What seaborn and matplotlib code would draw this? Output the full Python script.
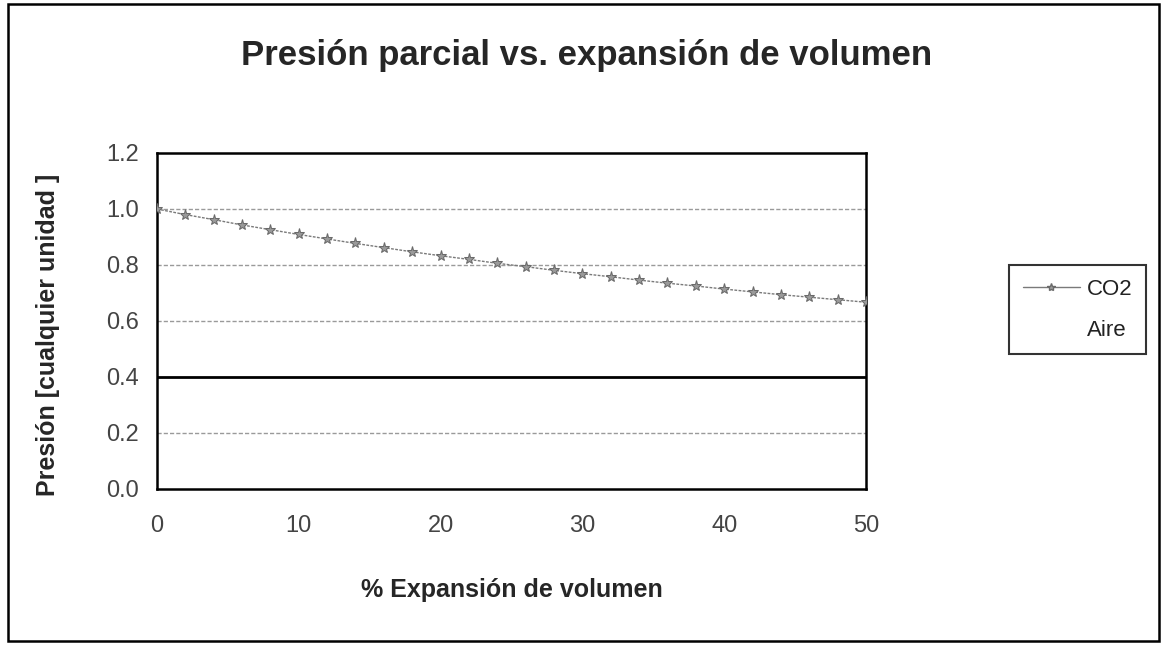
import matplotlib
matplotlib.use("Agg")
import matplotlib.pyplot as plt
import seaborn as sns
import pandas as pd
from matplotlib.patches import Rectangle
from matplotlib.lines import Line2D

# % volume expansion and partial pressures (arbitrary units)
expansion = [0, 2, 4, 6, 8, 10, 12, 14, 16, 18, 20, 22, 24, 26, 28, 30,
             32, 34, 36, 38, 40, 42, 44, 46, 48, 50]
co2 = [1.000, 0.980, 0.962, 0.943, 0.926, 0.909, 0.893, 0.877, 0.862,
       0.847, 0.833, 0.820, 0.806, 0.794, 0.781, 0.769, 0.758, 0.746,
       0.735, 0.725, 0.714, 0.704, 0.694, 0.685, 0.676, 0.667]
aire = [0.4] * len(expansion)
y_ticks = [0.0, 0.2, 0.4, 0.6, 0.8, 1.0, 1.2]
x_ticks = [0, 10, 20, 30, 40, 50]

sns.set_theme(style="white")
plt.rcParams["font.family"] = ["Liberation Sans", "DejaVu Sans"]

df = pd.DataFrame({"expansion": expansion, "CO2": co2, "Aire": aire})

fig = plt.figure(figsize=(11.66, 6.45), dpi=100)
ax = fig.add_axes([0.1346, 0.2419, 0.6081, 0.5209])

# light dotted horizontal guides
for yv in y_ticks[1:-1]:
    if abs(yv - 0.4) > 1e-9:
        ax.axhline(yv, color="#9a9a9a", lw=1.0, ls=(0, (3, 1.5)), zorder=1)

sns.lineplot(data=df, x="expansion", y="Aire", ax=ax, color="black",
             lw=2.0, zorder=2, legend=False)
sns.lineplot(data=df, x="expansion", y="CO2", ax=ax, color="#7a7a7a",
             lw=1.0, ls=(0, (2, 1)), marker="*", markersize=8,
             markeredgecolor="#6a6a6a", markerfacecolor="#9a9a9a",
             zorder=3, legend=False)

ax.set_xlim(0, 50)
ax.set_ylim(0, 1.2)
ax.set_xticks(x_ticks)
ax.set_yticks(y_ticks)
ax.set_yticklabels([f"{v:.1f}" for v in y_ticks])
ax.tick_params(axis="both", labelsize=17, colors="#444444", length=5,
               width=1.2, direction="out")
ax.tick_params(axis="y", pad=8)
ax.tick_params(axis="x", pad=14)
for sp in ax.spines.values():
    sp.set_color("black")
    sp.set_linewidth(1.8)

ax.set_xlabel("% Expansión de volumen", fontsize=18, fontweight="bold")
ax.xaxis.set_label_coords(0.5, -0.265)
ax.set_ylabel("Presión [cualquier unidad ]", fontsize=18, fontweight="bold")
ax.yaxis.set_label_coords(-0.137, 0.458)

fig.suptitle("Presión parcial vs. expansión de volumen", fontsize=25,
             fontweight="bold", x=0.503, y=0.94)

handles = [
    Line2D([], [], color="#7a7a7a", lw=1.0, marker="*", markersize=6,
           markerfacecolor="#9a9a9a", markeredgecolor="#6a6a6a"),
    Line2D([], [], color="white", lw=0),
]
leg = fig.legend(handles, ["CO2", "Aire"], loc="center left",
                 bbox_to_anchor=(0.856, 0.52), fontsize=16, frameon=True,
                 fancybox=False, edgecolor="black", handlelength=2.6,
                 borderpad=0.6, labelspacing=0.9, handletextpad=0.3)
leg.get_frame().set_linewidth(1.5)
for t in leg.get_texts():
    t.set_color("#222222")

# outer frame around the chart
fig.patches.append(Rectangle((0.007, 0.006), 0.987, 0.988,
                             transform=fig.transFigure, fill=False,
                             edgecolor="black", lw=1.8))

fig.savefig("out.png", dpi=100)
